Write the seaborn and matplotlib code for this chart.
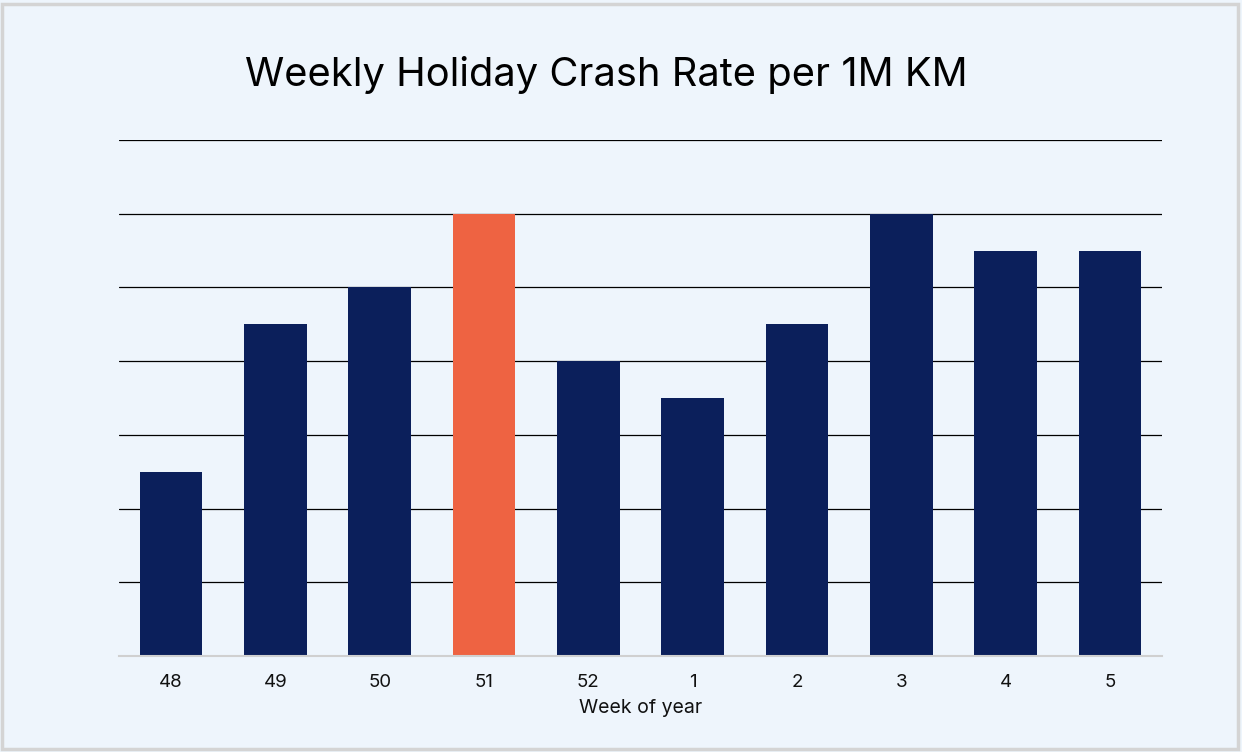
import matplotlib
matplotlib.use("Agg")
import matplotlib.pyplot as plt
import seaborn as sns
import pandas as pd
from matplotlib.patches import Rectangle

weeks = ["48", "49", "50", "51", "52", "1", "2", "3", "4", "5"]
crash_rate = [2.5, 4.5, 5.0, 6.0, 4.0, 3.5, 4.5, 6.0, 5.5, 5.5]
highlight_week = "51"

NAVY = "#0B1F5B"
ORANGE = "#EE6342"
BG = "#EEF5FC"

sns.set_theme(style="white")
plt.rcParams["font.family"] = ["Inter", "DejaVu Sans"]

df = pd.DataFrame({"week": weeks, "rate": crash_rate})
df["group"] = ["hi" if w == highlight_week else "lo" for w in weeks]

fig = plt.figure(figsize=(12.42, 7.52), dpi=100, facecolor=BG)
ax = fig.add_axes([119 / 1242, 1 - 656 / 752, (1162 - 119) / 1242, (656 - 140) / 752])
ax.set_facecolor(BG)

sns.barplot(data=df, x="week", y="rate", hue="group", order=weeks,
            palette={"hi": ORANGE, "lo": NAVY}, width=0.6, dodge=False,
            legend=False, saturation=1, linewidth=0, ax=ax, zorder=3)

ax.set_ylim(0, 7)
ax.set_xlim(-0.5, len(weeks) - 0.5)
ax.set_yticks(range(0, 8))
ax.yaxis.grid(True, color="black", linewidth=0.9)
ax.set_axisbelow(True)
ax.tick_params(axis="y", left=False, labelleft=False)
ax.tick_params(axis="x", bottom=False, labelsize=13.5, colors="#111111", pad=7)
for s in ["top", "right", "left"]:
    ax.spines[s].set_visible(False)
ax.spines["bottom"].set_color("#D0D0D0")
ax.spines["bottom"].set_linewidth(1.5)
ax.spines["bottom"].set_zorder(4)
ax.set_ylabel("")
ax.set_xlabel("Week of year", fontsize=14, color="#111111", labelpad=6)

fig.text(606 / 1242, 1 - 75 / 752, "Weekly Holiday Crash Rate per 1M KM",
         ha="center", va="center", fontsize=28.7, color="black")

# outer frame
fig.patches.append(Rectangle((2 / 1242, 3 / 752), 1 - 6 / 1242, 1 - 7 / 752,
                             transform=fig.transFigure, fill=False,
                             edgecolor="#D4D4D4", linewidth=2.5))

fig.savefig("out.png", dpi=100, facecolor=BG)
